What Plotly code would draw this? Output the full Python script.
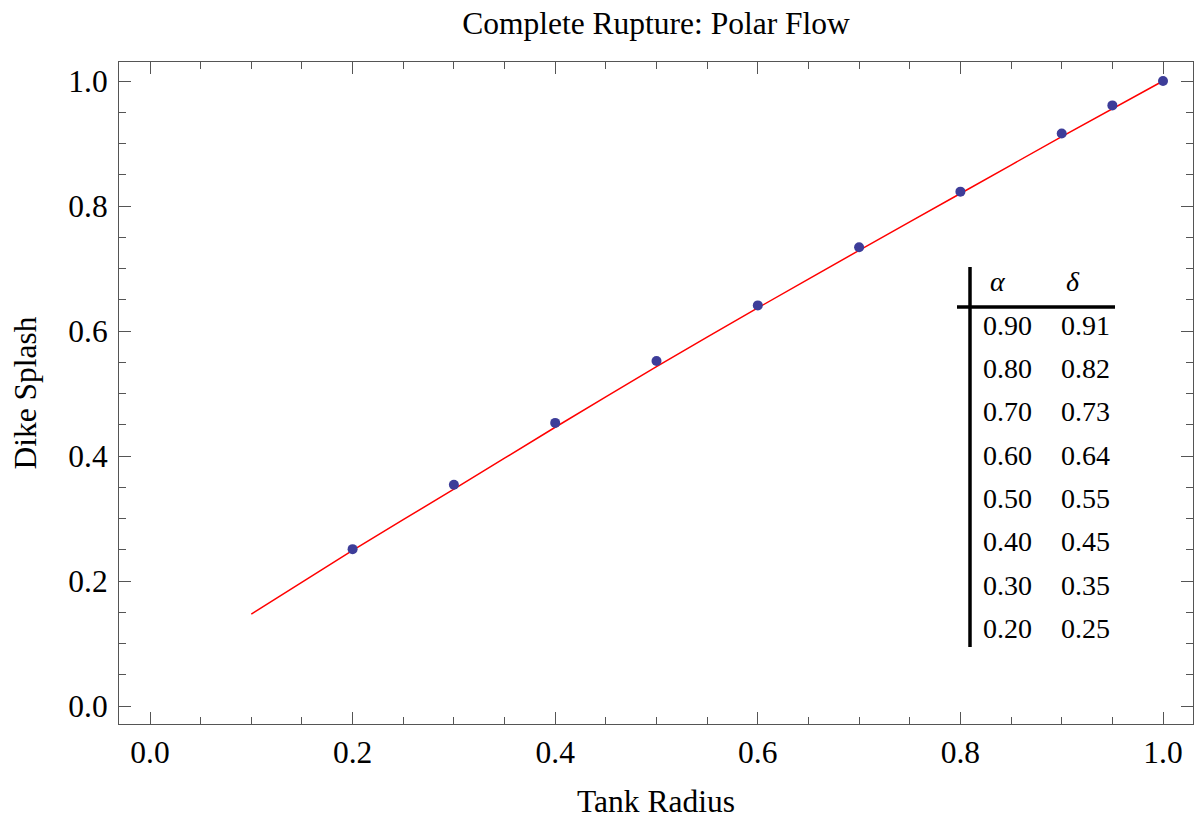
import plotly.graph_objects as go

# Data
radius = [0.2, 0.3, 0.4, 0.5, 0.6, 0.7, 0.8, 0.9, 0.95, 1.0]
splash = [0.251, 0.354, 0.453, 0.552, 0.641, 0.734, 0.823, 0.916, 0.961, 1.0]

# fitted curve
fit_x = [0.1, 0.2, 0.3, 0.4, 0.5, 0.6, 0.7, 0.8, 0.9, 1.0]
fit_y = [0.147, 0.249, 0.347, 0.446, 0.543, 0.637, 0.729, 0.820, 0.911, 1.0]

alpha_vals = ["0.90", "0.80", "0.70", "0.60", "0.50", "0.40", "0.30", "0.20"]
delta_vals = ["0.91", "0.82", "0.73", "0.64", "0.55", "0.45", "0.35", "0.25"]

FONT = "Liberation Serif, Times New Roman, serif"
W, H = 1194, 819
L, R, T, B = 119, 1, 62, 95
PW, PH = W - L - R, H - T - B

def fx(px):
    return (px - L) / PW

def fy(py):
    return (H - B - py) / PH

fig = go.Figure()
fig.add_trace(go.Scatter(x=fit_x, y=fit_y, mode="lines",
                         line=dict(color="#ff0000", width=1.5, shape="spline", smoothing=0.6),
                         showlegend=False, hoverinfo="skip"))
fig.add_trace(go.Scatter(x=radius, y=splash, mode="markers",
                         marker=dict(color="rgb(61,61,153)", size=10),
                         showlegend=False))

axis_common = dict(
    showline=True, linecolor="#555555", linewidth=1, mirror="ticks",
    ticks="inside", ticklen=12, tickwidth=1, tickcolor="#555555",
    showgrid=False, zeroline=False,
    tickfont=dict(family=FONT, size=31.5, color="black"),
    tickformat=".1f",
    minor=dict(ticks="inside", ticklen=7, dtick=0.05, tickcolor="#555555", showgrid=False),
)

fig.update_xaxes(range=[-0.0306, 1.0296], tick0=0, dtick=0.2,
                 title=dict(text="Tank Radius", font=dict(family=FONT, size=31.5, color="black"), standoff=25),
                 **axis_common)
fig.update_yaxes(range=[-0.0288, 1.0304], tick0=0, dtick=0.2, ticklabelstandoff=4,
                 title=dict(text="Dike Splash", font=dict(family=FONT, size=31.5, color="black"), standoff=22),
                 **axis_common)

# Inset table
shapes = [
    dict(type="line", xref="x domain", yref="y domain",
         x0=fx(970), x1=fx(970), y0=fy(267), y1=fy(647),
         line=dict(color="black", width=3.5)),
    dict(type="line", xref="x domain", yref="y domain",
         x0=fx(957), x1=fx(1115), y0=fy(307), y1=fy(307),
         line=dict(color="black", width=3.5)),
]
TF = dict(family=FONT, size=28, color="black")
annotations = [
    dict(text="<i>α</i>", x=fx(998), y=fy(281), xref="x domain", yref="y domain",
         showarrow=False, font=TF, xanchor="center", yanchor="middle"),
    dict(text="<i>δ</i>", x=fx(1073), y=fy(281), xref="x domain", yref="y domain",
         showarrow=False, font=TF, xanchor="center", yanchor="middle"),
]
row_y = [325, 368, 411, 455, 498, 541, 585, 628]
for a, d, py in zip(alpha_vals, delta_vals, row_y):
    annotations.append(dict(text=a, x=fx(1007), y=fy(py), xref="x domain", yref="y domain",
                            showarrow=False, font=TF, xanchor="center", yanchor="middle"))
    annotations.append(dict(text=d, x=fx(1085), y=fy(py), xref="x domain", yref="y domain",
                            showarrow=False, font=TF, xanchor="center", yanchor="middle"))

fig.update_layout(
    width=W, height=H,
    margin=dict(l=L, r=R, t=T, b=B),
    paper_bgcolor="white", plot_bgcolor="white",
    title=dict(text="Complete Rupture: Polar Flow", x=656 / W, xanchor="center",
               y=1 - 23 / H, yanchor="middle", yref="container",
               font=dict(family=FONT, size=31.5, color="black")),
    shapes=shapes, annotations=annotations,
)

fig.write_html("out.html", config={"displayModeBar": False},
               post_script="document.body.style.margin='0';document.body.style.overflow='hidden';")
